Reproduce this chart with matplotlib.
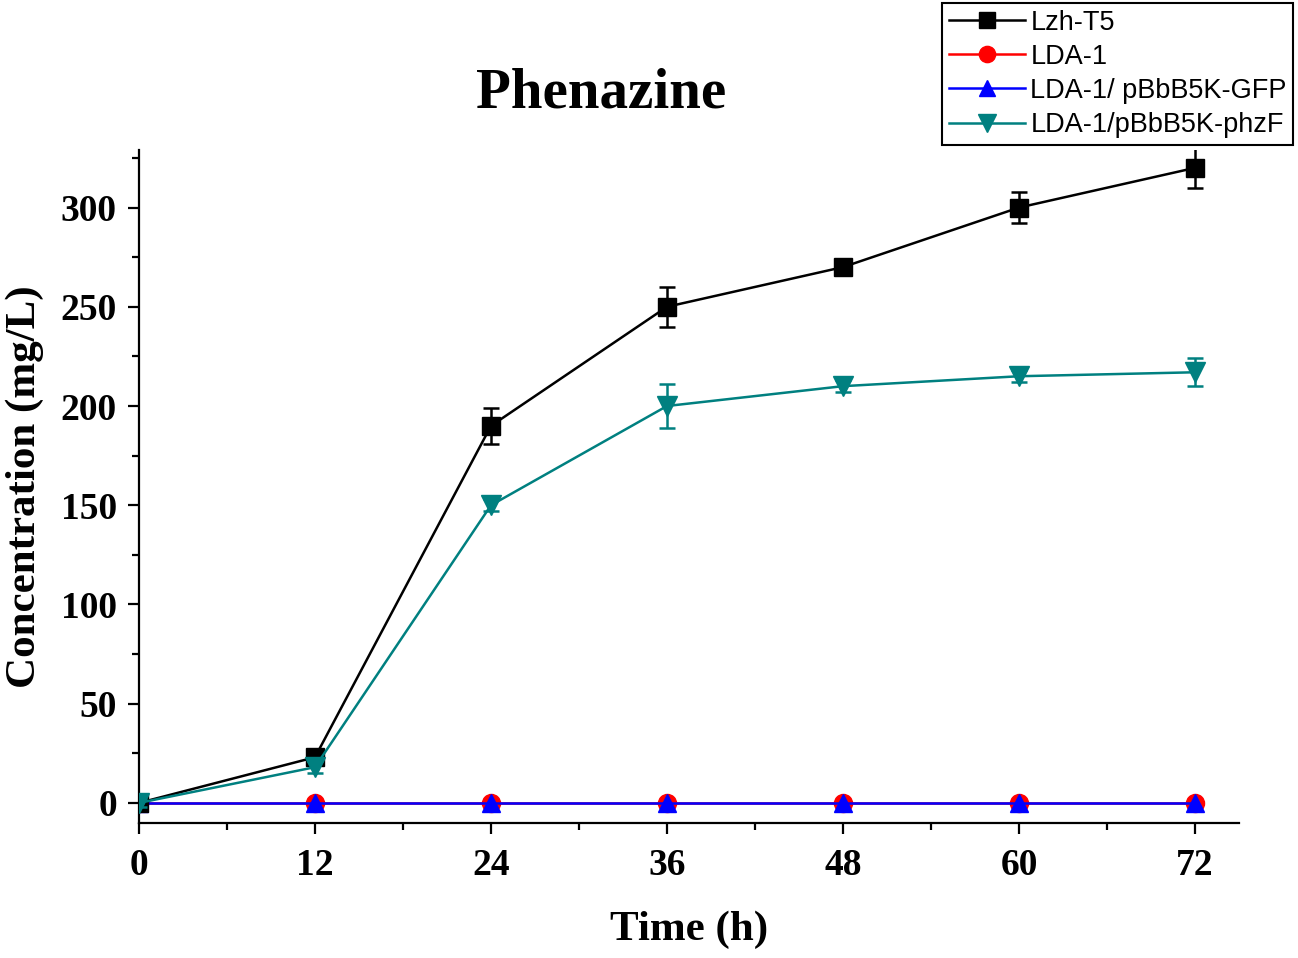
import numpy as np
import matplotlib
matplotlib.use("Agg")
import matplotlib.pyplot as plt
from matplotlib.ticker import MultipleLocator

# data
time_h = [0, 12, 24, 36, 48, 60, 72]
lzh_t5 = [0, 23, 190, 250, 270, 300, 320]
lzh_t5_err = [2, 3, 9, 10, 4, 8, 10]
lda1 = [0, 0, 0, 0, 0, 0, 0]
lda1_gfp = [0, 0, 0, 0, 0, 0, 0]
lda1_phzf = [0, 18, 150, 200, 210, 215, 217]
lda1_phzf_err = [2, 3, 3, 11, 3, 3, 7]

serif = "Liberation Serif"
sans = "Liberation Sans"
teal = "#008080"

fig = plt.figure(figsize=(12.98, 9.58), dpi=100)
ax = fig.add_axes([0.1071, 0.1412, 0.8474, 0.7022])

ms = 13
lw = 1.8
eb1 = ax.errorbar(time_h, lzh_t5, yerr=lzh_t5_err, color="black", marker="s", ms=ms,
                  lw=lw, capsize=6, elinewidth=1.8, capthick=1.8, zorder=4)
l2, = ax.plot(time_h, lda1, color="red", marker="o", ms=ms, lw=lw, zorder=3)
l3, = ax.plot(time_h, lda1_gfp, color="blue", marker="^", ms=ms, lw=lw, zorder=3.5)
eb4 = ax.errorbar(time_h, lda1_phzf, yerr=lda1_phzf_err, color=teal, marker="v", ms=ms + 1,
                  lw=lw, capsize=6, elinewidth=1.8, capthick=1.8, zorder=5)

ax.set_xlim(0, 75)
ax.set_ylim(-10, 329)
ax.xaxis.set_major_locator(MultipleLocator(12))
ax.xaxis.set_minor_locator(MultipleLocator(6))
ax.yaxis.set_major_locator(MultipleLocator(50))
ax.yaxis.set_minor_locator(MultipleLocator(25))

for s in ["top", "right"]:
    ax.spines[s].set_visible(False)
for s in ["left", "bottom"]:
    ax.spines[s].set_linewidth(1.6)

ax.tick_params(which="major", direction="out", length=8, width=1.6, pad=10)
ax.tick_params(which="minor", direction="out", length=5, width=1.6)
ax.tick_params(axis="y", which="major", pad=8)
for lab in ax.get_xticklabels() + ax.get_yticklabels():
    lab.set_fontfamily(serif)
    lab.set_fontweight("bold")
    lab.set_fontsize(27)

ax.set_xlabel("Time (h)", fontfamily=serif, fontweight="bold", fontsize=31, labelpad=20)
ax.set_ylabel("Concentration (mg/L)", fontfamily=serif, fontweight="bold", fontsize=31, labelpad=12)
fig.text(0.463, 0.902, "Phenazine", fontfamily=serif, fontweight="bold", fontsize=41,
         ha="center", va="center")

handles = [eb1[0], l2, l3, eb4[0]]
labels = ["Lzh-T5", "LDA-1", "LDA-1/ pBbB5K-GFP", "LDA-1/pBbB5K-phzF"]
leg = fig.legend(handles, labels,
                 loc="upper right", bbox_to_anchor=(0.9965, 0.997),
                 prop={"family": sans, "size": 19.5}, frameon=True, fancybox=False,
                 edgecolor="black", framealpha=1, handlelength=2.8, handletextpad=0.2,
                 labelspacing=0.3, borderpad=0.25, borderaxespad=0, markerscale=0.9)
leg.get_frame().set_linewidth(1.5)

fig.savefig("out.png", dpi=100)
